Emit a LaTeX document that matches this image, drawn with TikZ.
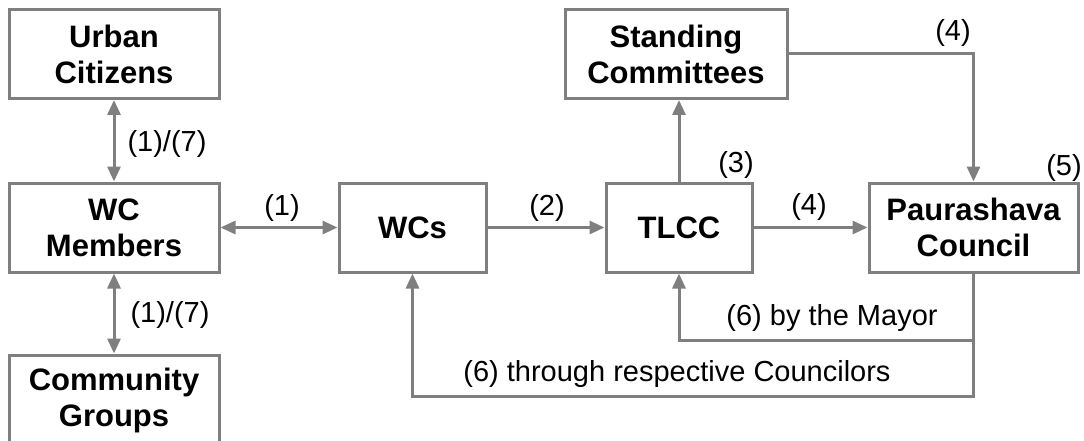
\documentclass[tikz,border=0pt]{standalone}
\usepackage{fontspec}
\setmainfont{Liberation Sans}
\usetikzlibrary{arrows.meta,calc}
\definecolor{linegray}{HTML}{7F7F7F}
\begin{document}
\begin{tikzpicture}[x=1pt,y=-1pt,
  box/.style={draw=linegray, line width=3pt, fill=white, inner sep=0pt,
    minimum height=89pt, align=center,
    font=\fontsize{31}{36}\selectfont\bfseries},
  tipx/.tip={Triangle[length=15pt,width=13pt]},
  conn/.style={draw=linegray, line width=3pt, -tipx},
  both/.style={draw=linegray, line width=3pt, tipx-tipx},
  lab/.style={font=\fontsize{29}{35}\selectfont, inner sep=0pt}]
\useasboundingbox (0,0) rectangle (1084,441);
\clip (0,0) rectangle (1084,441);
% boxes
\node[box, minimum width=210pt] (urban) at (114,54) {Urban\\Citizens};
\node[box, minimum width=210pt] (wcm) at (114,227.5) {WC\\Members};
\node[box, minimum width=210pt, minimum height=90pt] (comm) at (114,400) {Community\\Groups};
\node[box, minimum width=147pt] (wcs) at (412.5,227.5) {WCs};
\node[box, minimum width=146pt] (tlcc) at (679,227.5) {TLCC};
\node[box, minimum width=209pt] (paur) at (973.5,227.5) {Paurashava\\Council};
\node[box, minimum width=222pt] (stand) at (676,54) {Standing\\Committees};
% connectors
\draw[both] (urban) -- (wcm);
\draw[both] (wcm) -- (comm.north);
\draw[both] (wcm) -- (wcs);
\draw[conn] (wcs) -- (tlcc);
\draw[conn] (tlcc) -- (paur);
\draw[conn] (tlcc.north) -- (tlcc.north |- stand.south);
\draw[conn] (stand.east) -| (paur.north);
\draw[conn] (paur.south) -- ++(0,67) -| (tlcc.south);
\draw[conn] (paur.south) -- ++(0,123) -| (wcs.south);
% labels
\node[lab] (l1a) at (167,144) {(1)/(7)};
\node[lab] (l1b) at (170,315) {(1)/(7)};
\node[lab] (l1c) at (282,208) {(1)};
\node[lab] (l2) at (547,208) {(2)};
\node[lab] (l3) at (736,165) {(3)};
\node[lab] (l4a) at (809,207) {(4)};
\node[lab] (l4b) at (953,33) {(4)};
\node[lab] (l5) at (1064,168) {(5)};
\node[lab] (l6a) at (832,318) {(6) by the Mayor};
\node[lab] (l6b) at (677,374) {(6) through respective Councilors};
\end{tikzpicture}
\end{document}
